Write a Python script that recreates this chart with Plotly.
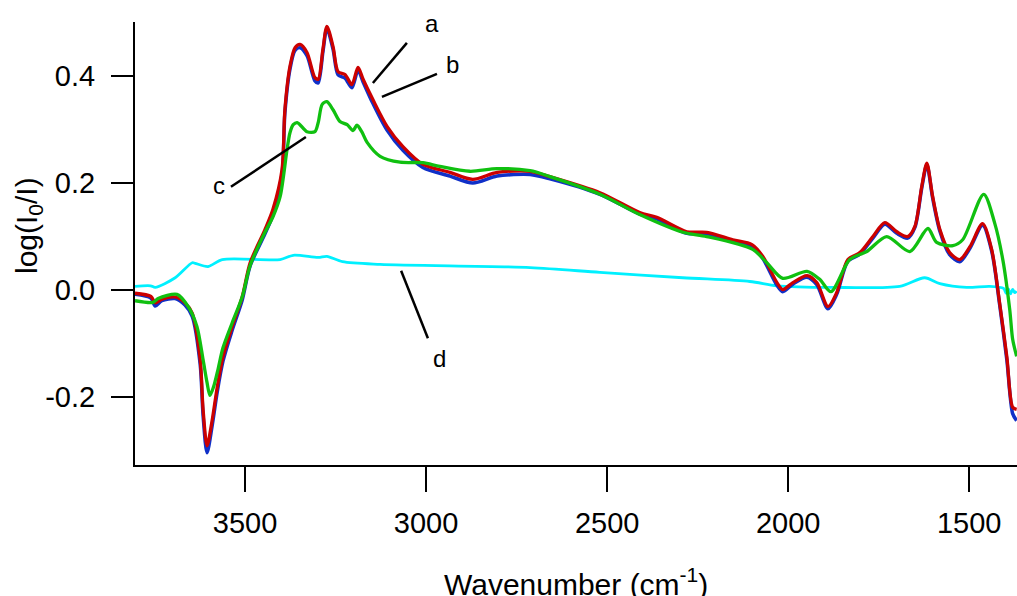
import plotly.graph_objects as go

# ---- data (wavenumber in cm-1, absorbance log(I0/I)) ----
wn_a = [3804, 3760, 3748, 3730, 3693, 3666, 3646, 3624, 3616, 3605, 3591, 3577, 3561, 3536, 3508,
        3486, 3445, 3423,
        3398, 3390, 3376, 3362, 3348, 3329, 3307, 3298, 3285, 3274, 3257, 3243, 3224, 3205, 3188,
        3174, 3147, 3108, 3064, 3009, 2934, 2871, 2804, 2713, 2658, 2520, 2410, 2363, 2280, 2225,
        2153, 2100, 2070, 2031, 2015, 1987, 1948, 1921, 1890, 1866, 1835, 1802, 1766, 1733, 1700,
        1670, 1650, 1631, 1617, 1601, 1581, 1554, 1526, 1498, 1463, 1438, 1416, 1396, 1380, 1369]
a = [-0.007, -0.013, -0.025, -0.018, -0.014, -0.025, -0.044, -0.131, -0.224, -0.292,
     -0.245, -0.183, -0.126, -0.070, -0.014, 0.050, 0.112, 0.150,
     0.224, 0.336, 0.417, 0.452, 0.458,
     0.443, 0.396, 0.393, 0.449, 0.492, 0.454, 0.407, 0.402, 0.383, 0.415,
     0.393, 0.355, 0.305, 0.267, 0.234, 0.219, 0.206, 0.219, 0.221, 0.211,
     0.181, 0.144, 0.135, 0.108, 0.107, 0.093, 0.084, 0.062, 0.013, 0.000,
     0.013, 0.026, 0.013, -0.032, -0.006, 0.056, 0.069, 0.099, 0.125, 0.108,
     0.099, 0.118, 0.193, 0.236, 0.174, 0.112, 0.069, 0.056, 0.080, 0.123,
     0.075, -0.025, -0.126, -0.220, -0.224]
b = [-0.009, -0.016, -0.031, -0.021, -0.017, -0.029, -0.050, -0.140, -0.235, -0.305,
     -0.255, -0.192, -0.134, -0.077, -0.020, 0.044, 0.104, 0.140,
     0.215, 0.330, 0.412, 0.447, 0.452,
     0.437, 0.390, 0.386, 0.444, 0.488, 0.449, 0.401, 0.395, 0.377, 0.410,
     0.388, 0.348, 0.298, 0.260, 0.228, 0.212, 0.199, 0.212, 0.215, 0.207,
     0.178, 0.141, 0.132, 0.105, 0.104, 0.090, 0.081, 0.058, 0.008, -0.004,
     0.010, 0.023, 0.009, -0.036, -0.009, 0.053, 0.066, 0.096, 0.122, 0.105,
     0.096, 0.116, 0.190, 0.233, 0.171, 0.109, 0.065, 0.052, 0.077, 0.120,
     0.072, -0.028, -0.132, -0.232, -0.245]

wn_c = [3804, 3754, 3740, 3688, 3657, 3633, 3616, 3605, 3597, 3587, 3575, 3561, 3536, 3508, 3486,
        3445, 3423,
        3403, 3384, 3376, 3367, 3356, 3329, 3307, 3298, 3287, 3274, 3257, 3238, 3218, 3202, 3191,
        3177, 3163, 3127, 3072, 3009, 2962, 2879, 2804, 2713, 2658, 2520, 2410, 2291, 2225, 2098,
        2059, 2015, 1948, 1913, 1882, 1830, 1783, 1728, 1664, 1614, 1590, 1545, 1518, 1460, 1430,
        1407, 1388, 1380, 1369]
c = [-0.021, -0.024, -0.017, -0.009, -0.032, -0.069, -0.131, -0.174, -0.198, -0.182,
     -0.150, -0.109, -0.063, -0.014, 0.045,
     0.107, 0.136, 0.174, 0.262, 0.293, 0.308, 0.312,
     0.295, 0.295, 0.312, 0.346, 0.351, 0.336, 0.314, 0.308, 0.297, 0.307,
     0.294, 0.275, 0.249, 0.238, 0.237, 0.230, 0.221, 0.226, 0.222, 0.211,
     0.178, 0.140, 0.107, 0.099, 0.075, 0.050, 0.021, 0.034, 0.019, -0.004,
     0.056, 0.071, 0.099, 0.071, 0.114, 0.088, 0.082, 0.093, 0.178, 0.125,
     0.055, -0.038, -0.093, -0.125]

wn_d = [3804, 3761, 3748, 3693, 3646, 3638, 3602, 3563, 3403, 3367, 3298, 3274, 3231, 3127, 2713,
        2520, 2291, 2106, 2031, 1877, 1692, 1623, 1581, 1507, 1443, 1405, 1398, 1392, 1386, 1380,
        1374, 1369]
d = [0.006, 0.007, 0.004, 0.022, 0.050, 0.049, 0.043, 0.056, 0.056, 0.064,
     0.060, 0.062, 0.052, 0.047, 0.041, 0.032, 0.022, 0.015, 0.007, 0.004,
     0.006, 0.022, 0.011, 0.004, 0.006, 0.002, -0.007, 0.001, -0.008, 0.000,
     -0.006, -0.003]

x_ticks = [3500, 3000, 2500, 2000, 1500]
y_ticks = [-0.2, 0.0, 0.2, 0.4]
y_tick_text = ["-0.2", "0.0", "0.2", "0.4"]

series = [
    (wn_d, d, "#00f0ff", 2.8, "d"),
    (wn_a, b, "#1030c8", 3.5, "b"),
    (wn_a, a, "#cc0000", 3.3, "a"),
    (wn_c, c, "#10c010", 3.3, "c"),
]

fig = go.Figure()
for xs, ys, col, w, name in series:
    fig.add_trace(go.Scatter(x=xs, y=ys, mode="lines", name=name,
                             line=dict(color=col, width=w, shape="spline", smoothing=0.8)))

font_family = "Liberation Sans, Arial, sans-serif"

fig.update_layout(
    width=1017, height=596,
    margin=dict(l=135, r=0, t=22, b=131),
    paper_bgcolor="white", plot_bgcolor="white",
    showlegend=False,
    font=dict(family=font_family, color="black"),
    xaxis=dict(range=[3804, 1368], tickvals=x_ticks, ticks="outside", ticklen=25, tickwidth=2,
               tickcolor="black", showline=True, linecolor="black", linewidth=2,
               showgrid=False, zeroline=False, tickfont=dict(size=29, family=font_family),
               ticklabelstandoff=6),
    yaxis=dict(range=[-0.328, 0.500], tickvals=y_ticks, ticktext=y_tick_text, ticks="outside",
               ticklen=22, tickwidth=2, tickcolor="black", showline=True, linecolor="black",
               linewidth=2, showgrid=False, zeroline=False,
               tickfont=dict(size=29, family=font_family), ticklabelstandoff=10),
)

# axis titles
fig.add_annotation(text="Wavenumber (cm<sup>-1</sup>)", xref="paper", yref="paper",
                   x=0.5, y=-0.216, xanchor="center", yanchor="top", showarrow=False,
                   font=dict(size=30, family=font_family))
fig.add_annotation(text="log(I<sub>0</sub>/I)", xref="paper", yref="paper",
                   x=-0.1213, y=0.5395, xanchor="center", yanchor="middle", textangle=-90,
                   showarrow=False, font=dict(size=30, family=font_family))

# curve labels with leader lines
labels = [
    ("a", 2984, 0.498, (3053, 0.461), (3147, 0.386)),
    ("b", 2926, 0.420, (2970, 0.403), (3122, 0.360)),
    ("c", 3572, 0.195, (3539, 0.192), (3332, 0.285)),
    ("d", 2962, -0.128, (2995, -0.091), (3069, 0.035)),
]
for txt, tx, ty, p0, p1 in labels:
    fig.add_annotation(text=txt, x=tx, y=ty, showarrow=False,
                       font=dict(size=24, family=font_family))
    fig.add_shape(type="line", x0=p0[0], y0=p0[1], x1=p1[0], y1=p1[1],
                  line=dict(color="black", width=2.5))

fig.write_html("out.html")
